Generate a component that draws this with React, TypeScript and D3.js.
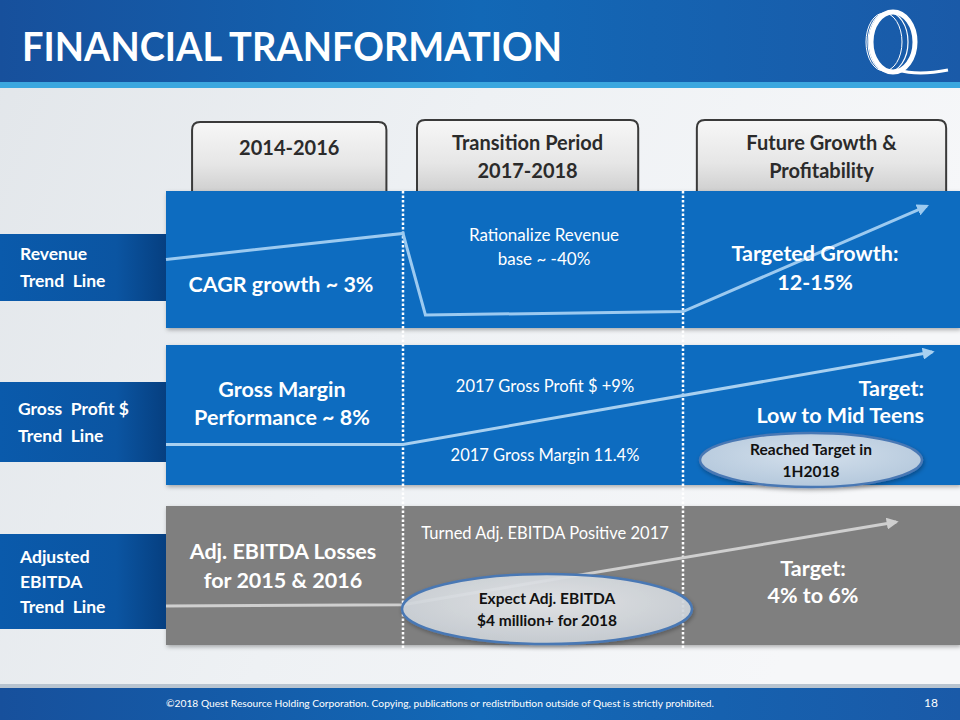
import React from 'react';
import * as d3 from 'd3';

// column boundaries: 0 = start of 2014-2016, 1 = start of transition, 2 = start of future, 3 = right edge
const periodStops = [0, 1, 2, 3];

const headers = [
  { from: 0.11, to: 0.93, lines: ['2014-2016'] },
  { from: 1.05, to: 1.84, lines: ['Transition Period', '2017-2018'] },
  { from: 2.05, to: 2.95, lines: ['Future Growth &', 'Profitability'] },
];

// trend lines, x in periods, y as share of row height (0 = bottom, 1 = top)
const revenueTrend: [number, number][] = [[0, 0.5], [1, 0.69], [1.08, 0.095], [2, 0.12], [2.88, 0.89]];
const grossProfitTrend: [number, number][] = [[0, 0.29], [1, 0.29], [2.9, 0.95]];
const ebitdaTrend: [number, number][] = [[0, 0.28], [1, 0.29], [2.77, 0.885]];

const rowLabels = [['Revenue', 'Trend  Line'], ['Gross  Profit $', 'Trend  Line'], ['Adjusted', 'EBITDA', 'Trend  Line']];

const W = 960;
const H = 720;
const FONT = 'Lato, "Open Sans", sans-serif';

const x = d3.scaleLinear().domain(periodStops).range([166, 403, 683, 960]);

const rows = [
  { top: 191, bottom: 328, fill: '#0a6cc0', line: '#9ccaf0', trend: revenueTrend, label: { top: 234, bottom: 301 } },
  { top: 345, bottom: 485, fill: '#0a6cc0', line: '#a8d0f0', trend: grossProfitTrend, label: { top: 382, bottom: 462 } },
  { top: 506, bottom: 645, fill: '#7f7f7f', line: '#cfcfcf', trend: ebitdaTrend, label: { top: 534, bottom: 629 } },
];

const App = () => {
  const lineFor = (r: (typeof rows)[number]) => {
    const y = d3.scaleLinear().domain([0, 1]).range([r.bottom, r.top]);
    return d3.line<[number, number]>().x((d) => x(d[0])).y((d) => y(d[1]))(r.trend) || '';
  };

  return (
    <svg width={W} height={H} style={{ display: 'block', position: 'absolute', left: 0, top: 0 }} fontFamily={FONT}>
      <defs>
        <linearGradient id="bg" x1="0" y1="0" x2="1" y2="0.3">
          <stop offset="0" stopColor="#e2e6ea" />
          <stop offset="0.5" stopColor="#eef1f4" />
          <stop offset="1" stopColor="#f6f7f9" />
        </linearGradient>
        <linearGradient id="hdr" x1="0" y1="0" x2="1" y2="0">
          <stop offset="0" stopColor="#17509c" />
          <stop offset="0.5" stopColor="#1268b6" />
          <stop offset="1" stopColor="#1a5aa8" />
        </linearGradient>
        <linearGradient id="tab" x1="0" y1="0" x2="0" y2="1">
          <stop offset="0" stopColor="#f7f7f7" />
          <stop offset="0.6" stopColor="#e6e6e6" />
          <stop offset="1" stopColor="#cfcfcf" />
        </linearGradient>
        <linearGradient id="lbl" x1="0" y1="0" x2="1" y2="0">
          <stop offset="0" stopColor="#0a5aab" />
          <stop offset="0.7" stopColor="#0b55a2" />
          <stop offset="1" stopColor="#063f80" />
        </linearGradient>
        <radialGradient id="ell1" cx="0.5" cy="0.4" r="0.6">
          <stop offset="0" stopColor="#d4e0ec" />
          <stop offset="1" stopColor="#b4c8dc" />
        </radialGradient>
        <radialGradient id="ell2" cx="0.5" cy="0.4" r="0.6">
          <stop offset="0" stopColor="#eaecef" />
          <stop offset="1" stopColor="#cdd3d9" />
        </radialGradient>
        <filter id="sh" x="-5%" y="-5%" width="110%" height="120%">
          <feDropShadow dx="1" dy="2" stdDeviation="2" floodColor="#000" floodOpacity="0.3" />
        </filter>
        {rows.map((r, i) => (
          <marker key={i} id={`arr${i}`} viewBox="0 0 10 10" refX="8" refY="5" markerWidth="4" markerHeight="4" orient="auto">
            <path d="M0,0 L10,5 L0,10 z" fill={r.line} />
          </marker>
        ))}
      </defs>

      <rect width={W} height={H} fill="url(#bg)" />

      {/* header band */}
      <rect width={W} height={82} fill="url(#hdr)" />
      <rect y={82} width={W} height={6} fill="#3ba7df" />
      <text x={22} y={61} fill="#fff" fontSize={41} fontWeight={700} textLength={540} lengthAdjust="spacingAndGlyphs">
        FINANCIAL TRANFORMATION
      </text>
      <g fill="none" stroke="#fff">
        <ellipse cx={893} cy={42} rx={22} ry={30} strokeWidth={5} />
        <ellipse cx={888} cy={42} rx={20} ry={30} strokeWidth={1.2} />
        <ellipse cx={884} cy={42} rx={18} ry={29} strokeWidth={1} />
        <path d="M898,70 Q918,76 948,70" strokeWidth={3} />
      </g>

      {/* column headers */}
      {headers.map((h, i) => {
        const x0 = x(h.from);
        const x1 = x(h.to);
        const top = i === 0 ? 122 : 120;
        const cx = (x0 + x1) / 2;
        return (
          <g key={i}>
            <path
              d={`M${x0},192 V${top + 8} Q${x0},${top} ${x0 + 8},${top} H${x1 - 8} Q${x1},${top} ${x1},${top + 8} V192`}
              fill="url(#tab)"
              stroke="#3a3a3a"
              strokeWidth={2}
            />
            {h.lines.map((t, j) => (
              <text key={j} x={cx} y={(i === 0 ? 155 : 150) + j * 28} textAnchor="middle" fontSize={20} fontWeight={700} fill="#2b2b2b">
                {t}
              </text>
            ))}
          </g>
        );
      })}

      {/* rows */}
      {rows.map((r, i) => (
        <g key={i}>
          <rect x={166} y={r.top} width={W - 166} height={r.bottom - r.top} fill={r.fill} filter="url(#sh)" />
          <rect x={0} y={r.label.top} width={166} height={r.label.bottom - r.label.top} fill="url(#lbl)" />
          {rowLabels[i].map((t, j) => {
            const n = rowLabels[i].length;
            const mid = (r.label.top + r.label.bottom) / 2;
            const gap = n === 3 ? 25 : 27;
            return (
              <text key={j} x={i === 1 ? 18 : 20} y={mid + 6 + (j - (n - 1) / 2) * gap} fontSize={17.5} fontWeight={700} fill="#fff" style={{ whiteSpace: 'pre' }}>
                {t}
              </text>
            );
          })}
        </g>
      ))}

      {/* period dividers */}
      {[1, 2].map((p) => (
        <line key={p} x1={x(p)} x2={x(p)} y1={191} y2={648} stroke="#fff" strokeWidth={2.5} strokeDasharray="2.5 2" />
      ))}

      {/* trend lines */}
      {rows.map((r, i) => (
        <path key={i} d={lineFor(r)} fill="none" stroke={r.line} strokeWidth={3} markerEnd={`url(#arr${i})`} />
      ))}

      {/* panel texts */}
      <g fill="#fff" textAnchor="middle">
        <text x={281} y={292} fontSize={21.5} fontWeight={700}>CAGR growth ~ 3%</text>
        <text x={544} y={241} fontSize={17}>Rationalize Revenue</text>
        <text x={544} y={265} fontSize={17}>base ~ -40%</text>
        <text x={815} y={261} fontSize={21.5} fontWeight={700}>Targeted Growth:</text>
        <text x={815} y={290} fontSize={21.5} fontWeight={700}>12-15%</text>

        <text x={282} y={397} fontSize={21.5} fontWeight={700}>Gross Margin</text>
        <text x={282} y={425} fontSize={21.5} fontWeight={700}>Performance ~ 8%</text>
        <text x={545} y={392} fontSize={16.5}>2017 Gross Profit $ +9%</text>
        <text x={545} y={461} fontSize={16.5}>2017 Gross Margin 11.4%</text>
        <text x={924} y={396} fontSize={21.5} fontWeight={700} textAnchor="end">Target:</text>
        <text x={924} y={423} fontSize={21.5} fontWeight={700} textAnchor="end">Low to Mid Teens</text>

        <text x={283} y={559} fontSize={21.5} fontWeight={700}>Adj. EBITDA Losses</text>
        <text x={283} y={588} fontSize={21.5} fontWeight={700}>for 2015 &amp; 2016</text>
        <text x={545} y={539} fontSize={16.5}>Turned Adj. EBITDA Positive 2017</text>
        <text x={813} y={576} fontSize={21.5} fontWeight={700}>Target:</text>
        <text x={813} y={603} fontSize={21.5} fontWeight={700}>4% to 6%</text>
      </g>

      {/* callouts */}
      <ellipse cx={811} cy={460} rx={111} ry={27} fill="url(#ell1)" stroke="#4a78b4" strokeWidth={2.5} filter="url(#sh)" />
      <g fill="#111" textAnchor="middle" fontSize={15.5} fontWeight={700}>
        <text x={811} y={455}>Reached Target in</text>
        <text x={811} y={477}>1H2018</text>
      </g>
      <ellipse cx={547} cy={609} rx={145} ry={35} fill="url(#ell2)" fillOpacity={0.9} stroke="#4a78b4" strokeWidth={2.5} filter="url(#sh)" />
      <g fill="#111" textAnchor="middle" fontSize={15.5} fontWeight={700}>
        <text x={547} y={604}>Expect Adj. EBITDA</text>
        <text x={547} y={626}>$4 million+ for 2018</text>
      </g>

      {/* footer */}
      <rect y={684} width={W} height={4} fill="#b8c4d0" />
      <rect y={688} width={W} height={32} fill="url(#hdr)" />
      <text x={440} y={707} textAnchor="middle" fontSize={9} fill="#fff" textLength={548} lengthAdjust="spacingAndGlyphs">
        ©2018 Quest Resource Holding Corporation.  Copying, publications or redistribution outside of Quest is strictly prohibited.
      </text>
      <text x={938} y={707} textAnchor="end" fontSize={12} fill="#fff">18</text>
    </svg>
  );
};

export default App;
